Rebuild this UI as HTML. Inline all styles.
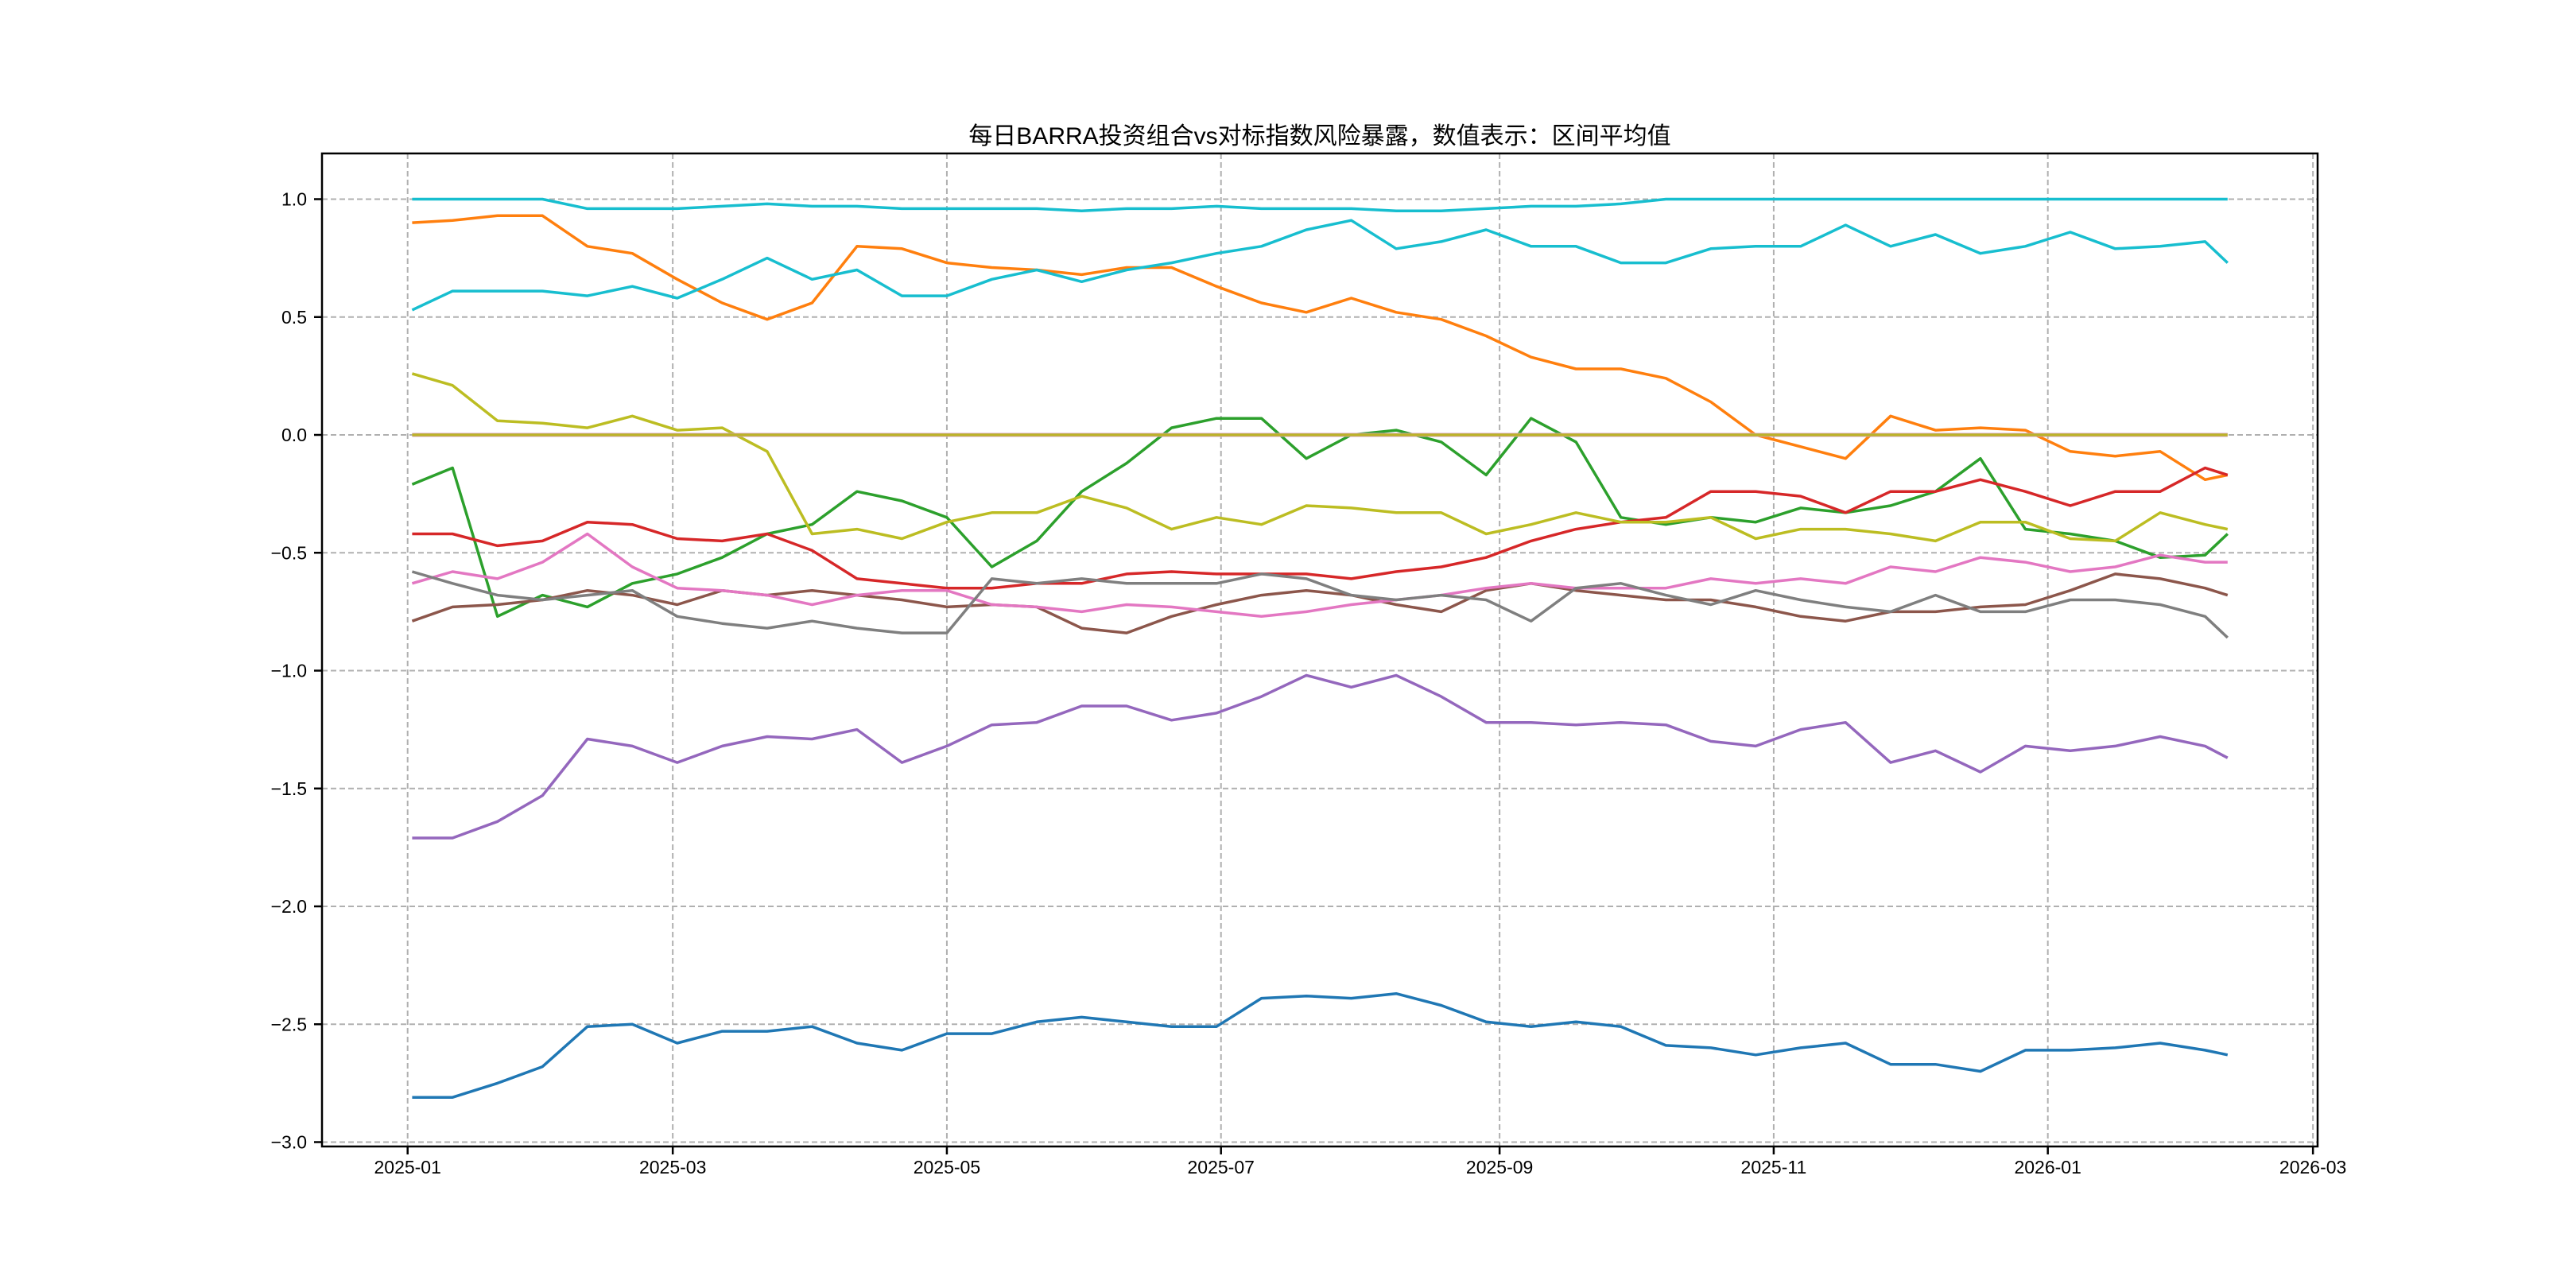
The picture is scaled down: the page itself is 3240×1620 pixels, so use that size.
<!DOCTYPE html>
<html><head><meta charset="utf-8"><style>
html,body{margin:0;padding:0;background:#fff;}
svg{display:block;}
text{font-family:"Liberation Sans","Noto Sans CJK SC",sans-serif;fill:#000;}
</style></head><body>
<svg id="chart" width="3240" height="1620" viewBox="0 0 3240 1620" xmlns="http://www.w3.org/2000/svg">
<rect x="0" y="0" width="3240" height="1620" fill="#fff"/>
<text x="1660" y="181" font-size="30" text-anchor="middle">每日BARRA投资组合vs对标指数风险暴露，数值表示：区间平均值</text>
<g id="grid"></g>
<g id="series"></g>
<rect x="405" y="193" width="2510" height="1249" fill="none" stroke="#000" stroke-width="2.5"/>
<g id="axes"></g>
</svg>
<script>
const days = [1,10,20,30,40,50,60,70,80,90,100,110,120,130,140,150,160,170,180,190,200,210,220,230,240,250,260,270,280,290,300,310,320,330,340,350,360,370,380,390,400,405];
const yTicks = [1.0,0.5,0.0,-0.5,-1.0,-1.5,-2.0,-2.5,-3.0];
const yTickLabels = ["1.0","0.5","0.0","−0.5","−1.0","−1.5","−2.0","−2.5","−3.0"];
const xTickDays = [0,59,120,181,243,304,365,424];
const xTickLabels = ["2025-01","2025-03","2025-05","2025-07","2025-09","2025-11","2026-01","2026-03"];
const blueVals = [-2.81,-2.81,-2.75,-2.68,-2.51,-2.50,-2.58,-2.53,-2.53,-2.51,-2.58,-2.61,-2.54,-2.54,-2.49,-2.47,-2.49,-2.51,-2.51,-2.39,-2.38,-2.39,-2.37,-2.42,-2.49,-2.51,-2.49,-2.51,-2.59,-2.60,-2.63,-2.60,-2.58,-2.67,-2.67,-2.70,-2.61,-2.61,-2.60,-2.58,-2.61,-2.63];
const orangeVals = [0.90,0.91,0.93,0.93,0.80,0.77,0.66,0.56,0.49,0.56,0.80,0.79,0.73,0.71,0.70,0.68,0.71,0.71,0.63,0.56,0.52,0.58,0.52,0.49,0.42,0.33,0.28,0.28,0.24,0.14,0.0,-0.05,-0.10,0.08,0.02,0.03,0.02,-0.07,-0.09,-0.07,-0.19,-0.17];
const greenVals = [-0.21,-0.14,-0.77,-0.68,-0.73,-0.63,-0.59,-0.52,-0.42,-0.38,-0.24,-0.28,-0.35,-0.56,-0.45,-0.24,-0.12,0.03,0.07,0.07,-0.10,0.0,0.02,-0.03,-0.17,0.07,-0.03,-0.35,-0.38,-0.35,-0.37,-0.31,-0.33,-0.30,-0.24,-0.10,-0.40,-0.42,-0.45,-0.52,-0.51,-0.42];
const redVals = [-0.42,-0.42,-0.47,-0.45,-0.37,-0.38,-0.44,-0.45,-0.42,-0.49,-0.61,-0.63,-0.65,-0.65,-0.63,-0.63,-0.59,-0.58,-0.59,-0.59,-0.59,-0.61,-0.58,-0.56,-0.52,-0.45,-0.40,-0.37,-0.35,-0.24,-0.24,-0.26,-0.33,-0.24,-0.24,-0.19,-0.24,-0.30,-0.24,-0.24,-0.14,-0.17];
const purpleVals = [-1.71,-1.71,-1.64,-1.53,-1.29,-1.32,-1.39,-1.32,-1.28,-1.29,-1.25,-1.39,-1.32,-1.23,-1.22,-1.15,-1.15,-1.21,-1.18,-1.11,-1.02,-1.07,-1.02,-1.11,-1.22,-1.22,-1.23,-1.22,-1.23,-1.30,-1.32,-1.25,-1.22,-1.39,-1.34,-1.43,-1.32,-1.34,-1.32,-1.28,-1.32,-1.37];
const brownVals = [-0.79,-0.73,-0.72,-0.70,-0.66,-0.68,-0.72,-0.66,-0.68,-0.66,-0.68,-0.70,-0.73,-0.72,-0.73,-0.82,-0.84,-0.77,-0.72,-0.68,-0.66,-0.68,-0.72,-0.75,-0.66,-0.63,-0.66,-0.68,-0.70,-0.70,-0.73,-0.77,-0.79,-0.75,-0.75,-0.73,-0.72,-0.66,-0.59,-0.61,-0.65,-0.68];
const pinkVals = [-0.63,-0.58,-0.61,-0.54,-0.42,-0.56,-0.65,-0.66,-0.68,-0.72,-0.68,-0.66,-0.66,-0.72,-0.73,-0.75,-0.72,-0.73,-0.75,-0.77,-0.75,-0.72,-0.70,-0.68,-0.65,-0.63,-0.65,-0.65,-0.65,-0.61,-0.63,-0.61,-0.63,-0.56,-0.58,-0.52,-0.54,-0.58,-0.56,-0.51,-0.54,-0.54];
const grayVals = [-0.58,-0.63,-0.68,-0.70,-0.68,-0.66,-0.77,-0.80,-0.82,-0.79,-0.82,-0.84,-0.84,-0.61,-0.63,-0.61,-0.63,-0.63,-0.63,-0.59,-0.61,-0.68,-0.70,-0.68,-0.70,-0.79,-0.65,-0.63,-0.68,-0.72,-0.66,-0.70,-0.73,-0.75,-0.68,-0.75,-0.75,-0.70,-0.70,-0.72,-0.77,-0.86];
const oliveVals = [0.26,0.21,0.06,0.05,0.03,0.08,0.02,0.03,-0.07,-0.42,-0.40,-0.44,-0.37,-0.33,-0.33,-0.26,-0.31,-0.40,-0.35,-0.38,-0.30,-0.31,-0.33,-0.33,-0.42,-0.38,-0.33,-0.37,-0.37,-0.35,-0.44,-0.40,-0.40,-0.42,-0.45,-0.37,-0.37,-0.44,-0.45,-0.33,-0.38,-0.40];
const cyanVals = [0.53,0.61,0.61,0.61,0.59,0.63,0.58,0.66,0.75,0.66,0.70,0.59,0.59,0.66,0.70,0.65,0.70,0.73,0.77,0.80,0.87,0.91,0.79,0.82,0.87,0.80,0.80,0.73,0.73,0.79,0.80,0.80,0.89,0.80,0.85,0.77,0.80,0.86,0.79,0.80,0.82,0.73];
const cyanTopVals = [1,1,1,1,0.96,0.96,0.96,0.97,0.98,0.97,0.97,0.96,0.96,0.96,0.96,0.95,0.96,0.96,0.97,0.96,0.96,0.96,0.95,0.95,0.96,0.97,0.97,0.98,1,1,1,1,1,1,1,1,1,1,1,1,1,1];
const zeroVals = [0,0,0,0,0,0,0,0,0,0,0,0,0,0,0,0,0,0,0,0,0,0,0,0,0,0,0,0,0,0,0,0,0,0,0,0,0,0,0,0,0,0];

const NS = "http://www.w3.org/2000/svg";
const L = 405, R = 2915, T = 193, B = 1442;
function xScale(d){ return 512.7 + d * 5.652; }
function yScale(v){ return 250.5 + (1 - v) * 296.5; }

const grid = document.getElementById('grid');
const axes = document.getElementById('axes');
const series = document.getElementById('series');

yTicks.forEach((v,i)=>{
  const y = yScale(v);
  const gl = document.createElementNS(NS,'line');
  gl.setAttribute('x1',L); gl.setAttribute('x2',R); gl.setAttribute('y1',y); gl.setAttribute('y2',y);
  gl.setAttribute('stroke','#b0b0b0'); gl.setAttribute('stroke-width','2'); gl.setAttribute('stroke-dasharray','7,4');
  
  
  grid.appendChild(gl);
  const tk = document.createElementNS(NS,'line');
  tk.setAttribute('x1',L-10); tk.setAttribute('x2',L); tk.setAttribute('y1',y); tk.setAttribute('y2',y);
  tk.setAttribute('stroke','#000'); tk.setAttribute('stroke-width','2.5');
  
  
  axes.appendChild(tk);
  const tx = document.createElementNS(NS,'text');
  tx.setAttribute('x',386); tx.setAttribute('y',y+8); tx.setAttribute('font-size','23'); tx.setAttribute('text-anchor','end');
  tx.textContent = yTickLabels[i];
  
  
  axes.appendChild(tx);
});
xTickDays.forEach((d,i)=>{
  const x = xScale(d);
  const gl = document.createElementNS(NS,'line');
  gl.setAttribute('x1',x); gl.setAttribute('x2',x); gl.setAttribute('y1',T); gl.setAttribute('y2',B);
  gl.setAttribute('stroke','#b0b0b0'); gl.setAttribute('stroke-width','2'); gl.setAttribute('stroke-dasharray','7,4');
  
  
  grid.appendChild(gl);
  const tk = document.createElementNS(NS,'line');
  tk.setAttribute('x1',x); tk.setAttribute('x2',x); tk.setAttribute('y1',B); tk.setAttribute('y2',B+10);
  tk.setAttribute('stroke','#000'); tk.setAttribute('stroke-width','2.5');
  
  
  axes.appendChild(tk);
  const tx = document.createElementNS(NS,'text');
  tx.setAttribute('x',x); tx.setAttribute('y',1476); tx.setAttribute('font-size','23'); tx.setAttribute('text-anchor','middle');
  tx.textContent = xTickLabels[i];
  
  
  axes.appendChild(tx);
});

function drawLine(vals, color, name, width){
  const pts = vals.map((v,i)=> xScale(days[i]).toFixed(1)+','+yScale(v).toFixed(1)).join(' ');
  const pl = document.createElementNS(NS,'polyline');
  pl.setAttribute('points', pts);
  pl.setAttribute('fill','none'); pl.setAttribute('stroke',color);
  pl.setAttribute('stroke-width', width || 3.5); pl.setAttribute('stroke-linejoin','round');
  
  
  series.appendChild(pl);
}
drawLine(blueVals,'#1f77b4','series-blue');
drawLine(orangeVals,'#ff7f0e','series-orange');
drawLine(greenVals,'#2ca02c','series-green');
drawLine(redVals,'#d62728','series-red');
drawLine(purpleVals,'#9467bd','series-purple');
drawLine(brownVals,'#8c564b','series-brown');
drawLine(pinkVals,'#e377c2','series-pink');
drawLine(grayVals,'#7f7f7f','series-gray');
drawLine(oliveVals,'#bcbd22','series-olive');
drawLine(cyanVals,'#17becf','series-cyan');
drawLine(cyanTopVals,'#17becf','series-cyan-top');
drawLine(zeroVals,'#d7a0c8','series-zero-under',5);
drawLine(zeroVals,'#bcb22a','series-zero');
</script>
</body></html>
